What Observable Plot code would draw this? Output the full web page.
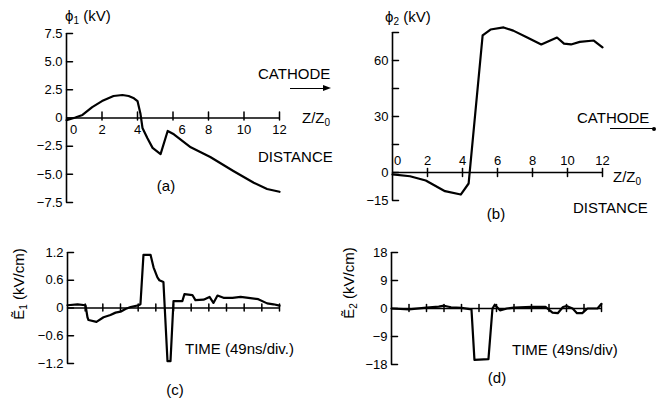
<!DOCTYPE html>
<html><head><meta charset="utf-8">
<script src="https://cdn.jsdelivr.net/npm/d3@7"></script>
<script src="https://cdn.jsdelivr.net/npm/@observablehq/plot@0.6"></script>
<style>
html,body{margin:0;padding:0;background:#fff;}
#fig{position:relative;width:657px;height:398px;font-family:"Liberation Sans",Arial,sans-serif;color:#000;overflow:hidden;background:#fff;}
#fig svg{position:absolute;overflow:visible;}
.t{position:absolute;font-size:15px;line-height:1;white-space:nowrap;}
.c{transform:translate(-50%,-50%);}
.l{transform:translateY(-50%);}
.t sub{font-size:10px;vertical-align:-3px;line-height:0;}
.rot{transform:translate(-50%,-50%) rotate(-90deg);}
.hl{position:absolute;height:0;border-top:1.5px solid #000;}
.ah{position:absolute;width:0;height:0;border-top:3.5px solid transparent;border-bottom:3.5px solid transparent;border-left:8px solid #000;}
.dot{position:absolute;width:4px;height:4px;border-radius:2px;background:#000;}
</style></head><body>
<div id="fig">
  <div class="t l" style="left:65px;top:15px">ϕ<sub>1</sub> (kV)</div>
  <div class="t l" style="left:258px;top:73px">CATHODE</div>
  <div class="hl" style="left:290px;top:88px;width:34px"></div>
  <div class="ah" style="left:323px;top:85px"></div>
  <div class="t l" style="left:302px;top:117px">Z/Z<sub>0</sub></div>
  <div class="t l" style="left:258px;top:156px">DISTANCE</div>
  <div class="t c" style="left:166px;top:185px">(a)</div>

  <div class="t l" style="left:385px;top:16px">ϕ<sub>2</sub> (kV)</div>
  <div class="t l" style="left:577px;top:117px">CATHODE</div>
  <div class="hl" style="left:610px;top:128px;width:44px"></div>
  <div class="dot" style="left:652px;top:127px"></div>
  <div class="t l" style="left:613px;top:176px">Z/Z<sub>0</sub></div>
  <div class="t l" style="left:573px;top:207px">DISTANCE</div>
  <div class="t c" style="left:496px;top:213px">(b)</div>

  <div class="t rot" style="left:18px;top:284px">Ẽ<sub>1</sub> (kV/cm)</div>
  <div class="t l" style="left:185px;top:348px">TIME (49ns/div.)</div>
  <div class="t c" style="left:175px;top:389px">(c)</div>

  <div class="t rot" style="left:348px;top:283px">Ẽ<sub>2</sub> (kV/cm)</div>
  <div class="t l" style="left:512px;top:349px">TIME (49ns/div)</div>
  <div class="t c" style="left:497px;top:377px">(d)</div>
</div>
<script>
// ---- Data ----
// (a) phi1 vs Z/Z0
const zA = [0, 0.5, 0.9, 1.45, 2.0, 2.65, 3.15, 3.5, 3.8, 4.0, 4.17, 4.28, 4.56, 4.85, 5.3, 5.7, 6.05, 7.0, 8.1, 9.4, 10.55, 11.3, 12];
const phi1 = [-0.2, 0.05, 0.27, 0.97, 1.5, 1.95, 2.04, 1.95, 1.75, 1.5, 0.35, -0.88, -1.8, -2.65, -3.2, -1.15, -1.45, -2.6, -3.46, -4.7, -5.75, -6.3, -6.55];
// (b) phi2 vs Z/Z0
const zB = [0, 1.0, 1.9, 3.0, 3.9, 4.35, 5.15, 5.6, 6.35, 6.9, 7.7, 8.5, 9.4, 9.8, 10.2, 10.7, 11.5, 12];
const phi2 = [-1, -2, -4.3, -10, -11.8, -5.9, 73.4, 76.6, 77.7, 76, 72.3, 68.6, 72.3, 69, 68.6, 70, 70.7, 67];
// (c) E1 vs time (divisions)
const tC = [0, 0.57, 1.02, 1.13, 1.19, 1.64, 2.04, 2.43, 2.72, 3.0, 3.28, 3.57, 4.02, 4.13, 4.3, 4.7, 4.87, 5.09, 5.2, 5.43, 5.66, 5.83, 6.0, 6.5, 6.62, 7.07, 7.24, 7.7, 8.04, 8.26, 8.49, 8.83, 9.34, 9.8, 10.24, 10.8, 11.3, 11.66, 12];
const e1 = [0.06, 0.08, 0.06, -0.2, -0.26, -0.3, -0.2, -0.15, -0.1, -0.08, -0.02, 0.02, 0.06, 0.08, 1.15, 1.15, 0.88, 0.66, 0.6, 0.56, -1.15, -1.15, 0.15, 0.15, 0.3, 0.28, 0.17, 0.18, 0.24, 0.11, 0.27, 0.22, 0.22, 0.24, 0.22, 0.19, 0.1, 0.08, 0.05];
// (d) E2 vs time (divisions)
const tD = [0, 1, 2, 2.7, 3.0, 3.4, 4.0, 4.57, 4.74, 5.54, 5.77, 5.9, 6.2, 6.6, 7.0, 8.0, 8.8, 9.2, 9.5, 9.8, 10.0, 10.35, 10.6, 10.9, 11.2, 11.77, 12];
const e2 = [0, -0.3, 0.3, 0.6, 0.9, 0.4, 0.2, -0.3, -16.5, -16.3, 0, 1.2, -0.6, 0, 0.3, 0.5, 0.5, -1.3, -1.5, 0.5, 0.8, 0, -1.5, -1.5, 0, 0, 1.5];

// tick values
const xTicksZ = [0, 2, 4, 6, 8, 10, 12];
const xTicksT = [1, 2, 3, 4, 5, 6, 7, 8, 9, 10, 11, 12];
const yTicksA = [-7.5, -5, -2.5, 0, 2.5, 5, 7.5];
const yTicksB = [-15, 0, 15, 30, 45, 60, 75];
const yLabelsB = [-15, 0, 30, 60];
const yTicksC = [-1.2, -0.6, 0, 0.6, 1.2];
const yTicksD = [-18, -9, 0, 9, 18];

const FONT = "'Liberation Sans', Arial, sans-serif";
const minus = s => s.replace("-", "\u2212");
const fmt1 = d => d === 0 ? "0" : minus(d.toFixed(1));
const fmt0 = d => minus(String(d));
const tickShape = {draw(context, l) { context.moveTo(0, 0); context.lineTo(0, -l); }};

function panel({width, height, left, top, ml, mr, mt, mb, ydom, yticks, ylabels, yfmt, xticks, xTickLen, xTickDy, data, xlab}) {
  const pts = data.x.map((x, i) => ({x, y: data.y[i]}));
  const marks = [
    Plot.ruleX([0], {strokeWidth: 1.6}),
    Plot.ruleY([0], {strokeWidth: 1.6}),
    Plot.axisY(ylabels, {tickSize: 0, tickPadding: 4, tickFormat: yfmt, fontSize: 13, label: null}),
    Plot.vector(yticks, {x: 0, y: d => d, length: 6, rotate: 90, anchor: "start", shape: tickShape, strokeWidth: 1.5}),
    Plot.vector(xticks, {x: d => d, y: 0, length: xTickLen, anchor: "start", dy: xTickDy, shape: tickShape, strokeWidth: 1.5}),
    Plot.line(pts, {x: "x", y: "y", strokeWidth: 2.2, curve: "linear", strokeLinejoin: "round"})
  ];
  if (xlab) marks.push(...xlab);
  const svg = Plot.plot({
    width, height,
    marginLeft: ml, marginRight: mr, marginTop: mt, marginBottom: mb,
    x: {domain: [0, 12], axis: null},
    y: {domain: ydom, label: null},
    style: {fontFamily: FONT, fontSize: "13px", background: "transparent", overflow: "visible", color: "#000"},
    marks
  });
  svg.style.left = left + "px";
  svg.style.top = top + "px";
  document.getElementById("fig").appendChild(svg);
}

// (a)
panel({
  width: 330, height: 215, left: 0, top: 0, ml: 66, mr: 51, mt: 33, mb: 13,
  ydom: [-7.5, 7.5], yticks: yTicksA, ylabels: yTicksA, yfmt: fmt1,
  xticks: xTicksZ.filter(d => d > 0), xTickLen: 8, xTickDy: 2,
  data: {x: zA, y: phi1},
  xlab: [
    Plot.text(xTicksZ.filter(d => d !== 0 && d !== 6), {x: d => d, y: 0, text: d => String(d), dy: 12, fontSize: 13}),
    Plot.text(xTicksZ.filter(d => d === 0), {x: d => d, y: 0, text: d => String(d), dy: 12, dx: 7, fontSize: 13}),
    Plot.text(xTicksZ.filter(d => d === 6), {x: d => d, y: 0, text: d => String(d), dy: 12, dx: 9, fontSize: 13})
  ]
});
// (b)
panel({
  width: 327, height: 215, left: 330, top: 0, ml: 62, mr: 55, mt: 32, mb: 15,
  ydom: [-15, 75], yticks: yTicksB, ylabels: yLabelsB, yfmt: fmt0,
  xticks: xTicksZ.filter(d => d > 0), xTickLen: 8, xTickDy: 4,
  data: {x: zB, y: phi2},
  xlab: [
    Plot.text(xTicksZ.filter(d => d !== 0), {x: d => d, y: 0, text: d => String(d), dy: -12, fontSize: 13}),
    Plot.text(xTicksZ.filter(d => d === 0), {x: d => d, y: 0, text: d => String(d), dy: -12, dx: 5, fontSize: 13})
  ]
});
// (c)
panel({
  width: 330, height: 170, left: 0, top: 220, ml: 67, mr: 51, mt: 32, mb: 27,
  ydom: [-1.2, 1.2], yticks: yTicksC, ylabels: yTicksC, yfmt: fmt1,
  xticks: xTicksT, xTickLen: 7, xTickDy: 3,
  data: {x: tC, y: e1}
});
// (d)
panel({
  width: 327, height: 170, left: 330, top: 220, ml: 61, mr: 56, mt: 32, mb: 26,
  ydom: [-18, 18], yticks: yTicksD, ylabels: yTicksD, yfmt: fmt0,
  xticks: xTicksT, xTickLen: 7, xTickDy: 3,
  data: {x: tD, y: e2}
});
</script>
</body></html>
